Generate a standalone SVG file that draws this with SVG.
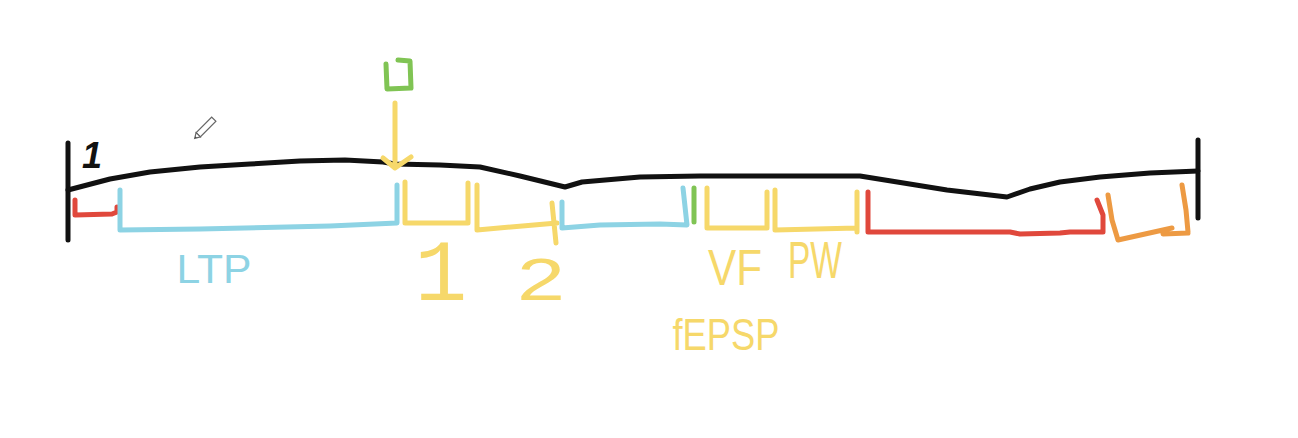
<svg xmlns="http://www.w3.org/2000/svg" width="1298" height="438" viewBox="0 0 1298 438">
<style>
.s{fill:none;stroke-width:5;stroke-linecap:round;stroke-linejoin:round}
.k{stroke:#111}
.y{stroke:#f6d86a}
.b{stroke:#8dd3e4}
.r{stroke:#e0483c}
.o{stroke:#ed9a43}
.g{stroke:#80c454}
.t{font-family:"Liberation Sans",Arial,sans-serif}
</style>
<rect width="1298" height="438" fill="#ffffff"/>
<g id="axis">
<path class="s k" d="M68,143 L68,240"/>
<path class="s k" d="M1198,140 L1198,218"/>
<path class="s k" d="M68,190 L110,179 L150,172 L200,167 L250,164 L300,161 L345,160 L383,162 L395,164 L440,165 L480,167 L520,176 L565,187 L582,182 L640,177 L700,176 L860,176 L947,190 L1007,197 L1030,189 L1060,182 L1100,177 L1150,173 L1198,171"/>
<text class="t" x="92" y="168" font-size="36" font-weight="bold" font-style="italic" text-anchor="middle" fill="#111">1</text>
</g>
<g id="stimulus">
<path class="s g" d="M398,60 L410,61 L411,88 L387,89 L386,64"/>
<path class="s y" d="M395,103 L395,167 M383,158 L395,168 L411,157"/>
</g>
<g id="red-start"><path class="s r" d="M75,200 L75,215 L112,214 L117,212 L117,207"/></g>
<g id="ltp">
<path class="s b" d="M120,190 L120,230 L200,229 L330,226 L397,223 L397,185"/>
<text class="t" x="214" y="283" font-size="40" text-anchor="middle" fill="#8dd3e4" textLength="75" lengthAdjust="spacingAndGlyphs">LTP</text>
</g>
<g id="seg1">
<path class="s y" d="M405,182 L405,223 L468,223 L468,183"/>
<text x="441" y="300" font-family="'Liberation Mono',monospace" font-size="88" text-anchor="middle" fill="#f6d86a">1</text>
</g>
<g id="seg2">
<path class="s y" d="M477,185 L477,230 L557,223 M552,203 L556,243"/>
<text class="t" x="541" y="300" font-size="60" text-anchor="middle" fill="#f6d86a" textLength="48" lengthAdjust="spacingAndGlyphs">2</text>
</g>
<g id="blue2"><path class="s b" d="M562,202 L562,228 L600,225 L660,224 L687,225 L683,188"/></g>
<g id="green-tick"><path class="s g" d="M694,188 L694,222"/></g>
<g id="vf">
<path class="s y" d="M707,188 L707,228 L767,228 L767,192"/>
<text class="t" x="735" y="285" font-size="50" text-anchor="middle" fill="#f6d86a" textLength="54" lengthAdjust="spacingAndGlyphs">VF</text>
</g>
<g id="pw">
<path class="s y" d="M775,190 L775,230 L857,228 M857,192 L857,232"/>
<text class="t" x="815" y="278" font-size="52" text-anchor="middle" fill="#f6d86a" textLength="54" lengthAdjust="spacingAndGlyphs">PW</text>
</g>
<g id="fepsp">
<text class="t" x="726" y="350" font-size="44" text-anchor="middle" fill="#f6d86a" textLength="107" lengthAdjust="spacingAndGlyphs">fEPSP</text>
</g>
<g id="red-end"><path class="s r" d="M868,192 L868,232 L1010,232 L1020,234 L1060,233 L1070,232 L1103,232 L1103,215 L1097,200"/></g>
<g id="orange"><path class="s o" d="M1108,195 L1112,220 L1118,240 L1172,228 M1163,234 L1188,233 M1182,185 L1186,210 L1188,232"/></g>
<g id="cursor" transform="translate(206,127) rotate(-45)">
<rect x="-11" y="-3" width="22" height="6" fill="#ffffff" stroke="#666" stroke-width="1.2"/>
<path d="M-11,-3 L-16,0 L-11,3 Z" fill="#ffffff" stroke="#666" stroke-width="1.2"/>
<path d="M-16,0 L-14,-1 L-14,1 Z" fill="#444"/>
</g>
</svg>
